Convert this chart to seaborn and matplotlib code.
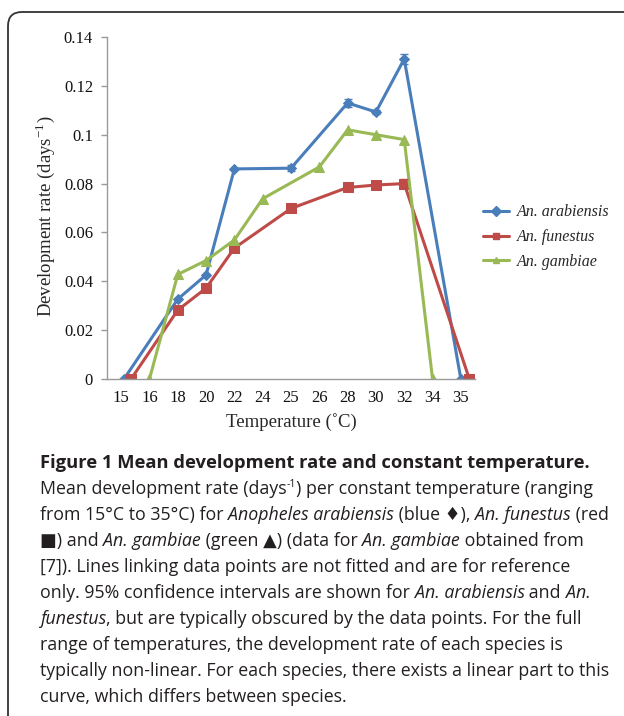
import numpy as np
import pandas as pd
import seaborn as sns
import matplotlib.pyplot as plt
from matplotlib.patches import FancyBboxPatch
from matplotlib.lines import Line2D

# Data
tick_temps = [15, 16, 18, 20, 22, 24, 25, 26, 28, 30, 32, 34, 35]
# x positions on the category axis (Excel style, slight nudges at 15 and 35)
arab_x = [0.1, 2, 3, 4, 6, 8, 9, 10, 12.0]
arab_y = [0, 0.0327, 0.0426, 0.0860, 0.0863, 0.1130, 0.1093, 0.1310, 0]
arab_err = [0, 0, 0, 0, 0.0012, 0.0015, 0.0008, 0.0020, 0]
fun_x = [0.35, 2, 3, 4, 6, 8, 9, 10, 12.3]
fun_y = [0, 0.0282, 0.0372, 0.0536, 0.0698, 0.0784, 0.0794, 0.0800, 0]
fun_err = [0, 0, 0, 0, 0.0010, 0, 0, 0.0020, 0]
gam_x = [1, 2, 3, 4, 5, 7, 8, 9, 10, 11]
gam_y = [0, 0.0428, 0.0485, 0.0569, 0.0738, 0.0868, 0.1020, 0.1000, 0.0980, 0]

names = ['An. arabiensis', 'An. funestus', 'An. gambiae']
colors = ['#4A7EBB', '#BE4B48', '#98B954']
markers = ['D', 's', '^']

df = pd.concat([
    pd.DataFrame({'x': arab_x, 'y': arab_y, 'species': names[0]}),
    pd.DataFrame({'x': fun_x, 'y': fun_y, 'species': names[1]}),
    pd.DataFrame({'x': gam_x, 'y': gam_y, 'species': names[2]}),
])

sns.set_style('white')
plt.rcParams['mathtext.fontset'] = 'stix'

W, H = 624, 716
fig = plt.figure(figsize=(W / 100, H / 100), dpi=100)
ax = fig.add_axes([107 / W, 1 - 379 / H, (475 - 107) / W, (379 - 37) / H])

msizes = [5.5, 6.5, 7.5]
for name, col, mk, ms in zip(names, colors, markers, msizes):
    sub = df[df['species'] == name]
    sns.lineplot(data=sub, x='x', y='y', ax=ax, color=col, marker=mk, markersize=ms,
                 markeredgecolor=col, linewidth=2.2, sort=False, estimator=None,
                 legend=False)

# 95% confidence intervals
ax.errorbar(arab_x, arab_y, yerr=arab_err, fmt='none', ecolor=colors[0],
            elinewidth=1, capsize=3, capthick=1)
ax.errorbar(fun_x, fun_y, yerr=fun_err, fmt='none', ecolor=colors[1],
            elinewidth=1, capsize=3, capthick=1)

ax.set_xlim(-0.5, 12.5)
ax.set_ylim(0, 0.14)
ax.set_xticks(range(len(tick_temps)))
ax.set_xticklabels([str(t) for t in tick_temps])
ax.set_yticks([0, 0.02, 0.04, 0.06, 0.08, 0.1, 0.12, 0.14])
ax.set_yticklabels(['0', '0.02', '0.04', '0.06', '0.08', '0.1', '0.12', '0.14'])
ax.set_xlabel('')
ax.set_ylabel('')
for lab in ax.get_xticklabels() + ax.get_yticklabels():
    lab.set_family('Liberation Serif')
    lab.set_fontsize(12)
    lab.set_color('#111111')
ax.tick_params(axis='x', length=0, pad=8)
ax.tick_params(axis='y', length=4, width=1, color='#999999', direction='out', pad=6, left=True)
for s in ['top', 'right']:
    ax.spines[s].set_visible(False)
for s in ['left', 'bottom']:
    ax.spines[s].set_color('#9a9a9a')
    ax.spines[s].set_linewidth(1)

# axis titles
fig.text(45 / W, 1 - 216 / H, 'Development rate (days$^{\\mathregular{-1}}$)',
         rotation=90, ha='center', va='center', family='Liberation Serif', fontsize=13.5)
fig.text(291 / W, 1 - 422 / H, 'Temperature (˚C)', ha='center', va='center',
         family='Liberation Serif', fontsize=13.5)

# legend
handles = [Line2D([0], [0], color=c, marker=m, markersize=5, linewidth=2.2)
           for c, m in zip(colors, markers)]
fig.legend(handles, names, loc='upper left', bbox_to_anchor=(469 / W, 1 - 190 / H),
           frameon=False, handlelength=1.6, handletextpad=0.5, labelspacing=0.55,
           prop={'family': 'Liberation Serif', 'style': 'italic', 'size': 11.5})

# frame around the figure panel
frame = FancyBboxPatch((8, -40), W + 40, H + 40 - 12, boxstyle='round,pad=0,rounding_size=14',
                       transform=None, fill=False, edgecolor='#333333', linewidth=1.3)
fig.patches.append(frame)

# caption
cap_lines = [
    [('Figure 1 Mean development rate and constant temperature.', 'b')],
    [('Mean development rate (days', 'r'), ('-1', 'sup'),
     (') per constant temperature (ranging', 'r')],
    [('from 15°C to 35°C) for ', 'r'), ('Anopheles arabiensis', 'i'), (' (blue ♦), ', 'r'),
     ('An. funestus', 'i'), (' (red', 'r')],
    [('■) and ', 'r'), ('An. gambiae', 'i'), (' (green ▲) (data for ', 'r'),
     ('An. gambiae', 'i'), (' obtained from', 'r')],
    [('[7]). Lines linking data points are not fitted and are for reference', 'r')],
    [('only. 95% confidence intervals are shown for ', 'r'), ('An. arabiensis', 'i'),
     (' and ', 'r'), ('An.', 'i')],
    [('funestus', 'i'), (', but are typically obscured by the data points. For the full', 'r')],
    [('range of temperatures, the development rate of each species is', 'r')],
    [('typically non-linear. For each species, there exists a linear part to this', 'r')],
    [('curve, which differs between species.', 'r')],
]
cap_base = [468, 494, 520, 546, 572, 598, 624, 650, 676, 702]

renderer = fig.canvas.get_renderer()
cap_size = 12.8


def seg_width(txt, kw):
    # width including trailing spaces, measured against a sentinel glyph
    t1 = fig.text(0, 0, txt + '|', **kw)
    t2 = fig.text(0, 0, '|', **kw)
    w = t1.get_window_extent(renderer).width - t2.get_window_extent(renderer).width
    t1.remove()
    t2.remove()
    return w


for segs, yb in zip(cap_lines, cap_base):
    x = 40
    for txt, st in segs:
        kw = dict(family=['Open Sans', 'DejaVu Sans'], fontsize=cap_size, color='#231f20')
        dy = 0
        if st == 'b':
            kw['weight'] = 'bold'
            kw['fontsize'] = 13.2
        elif st == 'i':
            kw['style'] = 'italic'
        elif st == 'sup':
            kw['fontsize'] = 7.5
            dy = 7
        fig.text(x / W, 1 - (yb - dy) / H, txt, ha='left', va='baseline', **kw)
        x += seg_width(txt, kw)

fig.savefig('out.png', dpi=100)
